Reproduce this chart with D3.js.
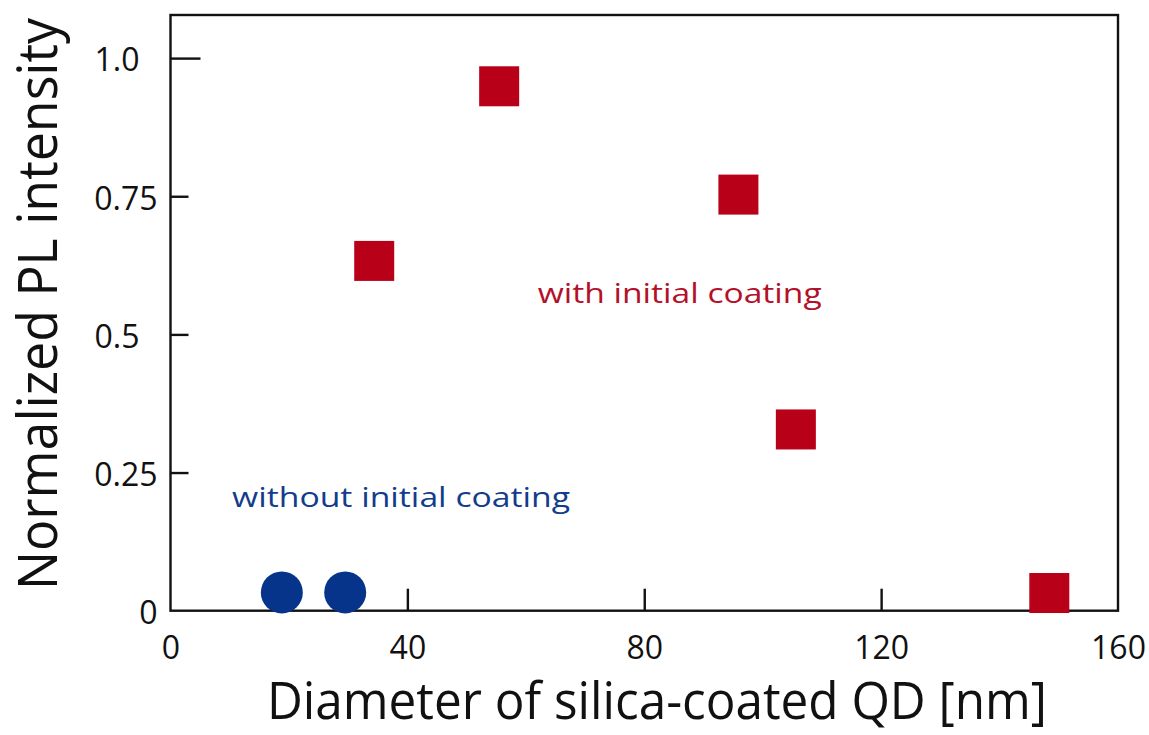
<!DOCTYPE html>
<html>
<head>
<meta charset="utf-8">
<script src="https://cdn.jsdelivr.net/npm/d3@7"></script>
<style>
	html, body { margin: 0; padding: 0; background: #fff; }
	svg { display: block; font-family: 'Open Sans', sans-serif; }
</style>
</head>
<body>
<svg id="chart" width="1149" height="735"></svg>
<script>
// data
const withDiameter = [34.4, 55.5, 95.9, 105.6, 148.4];
const withIntensity = [0.633, 0.949, 0.753, 0.328, 0.032];
const withoutDiameter = [18.8, 29.5];
const withoutIntensity = [0.033, 0.033];

const xTicks = [0, 40, 80, 120, 160];
const xTickLabels = ['0', '40', '80', '120', '160'];
const yTicks = [0, 0.25, 0.5, 0.75, 1.0];
const yTickLabels = ['0', '0.25', '0.5', '0.75', '1.0'];

const notes = [
	{text: 'with initial coating', x: 62.0, y: 0.557, color: '#b3102a', len: 284},
	{text: 'without initial coating', x: 10.4, y: 0.188, color: '#123c8c', len: 338}
];

const red = '#b80019';
const blue = '#05348a';

const plotLeft = 170.5, plotRight = 1118, plotTop = 15, plotBottom = 610.7;

const svg = d3.select('#chart');

let x = d3.scaleLinear()
	.domain([0, 160])
	.range([plotLeft, plotRight]);

let y = d3.scaleLinear()
	.domain([0, 1.078])
	.range([plotBottom, plotTop]);

// frame
svg.append('rect')
	.attr('x', plotLeft)
	.attr('y', plotTop)
	.attr('width', plotRight - plotLeft)
	.attr('height', plotBottom - plotTop)
	.attr('fill', 'none')
	.attr('stroke', '#111')
	.attr('stroke-width', 2.4);

// Y axis
let yAxis = svg.append('g')
	.attr('transform', `translate(${plotLeft},0)`)
	.call(d3.axisLeft(y)
		.tickValues(yTicks)
		.tickSize(-18)
		.tickPadding(13)
		.tickFormat((d, i) => yTickLabels[i]));

yAxis.select('.domain').remove();
yAxis.selectAll('.tick line')
	.attr('stroke', '#111')
	.attr('stroke-width', 2.4)
	.attr('x2', d => d === 1 ? 30 : 18)
	.filter(d => d === 0).remove();
yAxis.selectAll('.tick text')
	.attr('font-family', "'Open Sans', sans-serif")
	.attr('font-size', 32)
	.attr('fill', '#111')
	.attr('dy', '0.4em')
	.attr('x', d => (d === 1 || d === 0.5) ? -31 : -13);

// X axis
let xAxis = svg.append('g')
	.attr('transform', `translate(0,${plotBottom})`)
	.call(d3.axisBottom(x)
		.tickValues(xTicks)
		.tickSize(-22)
		.tickPadding(26)
		.tickFormat((d, i) => xTickLabels[i]));

xAxis.select('.domain').remove();
xAxis.selectAll('.tick line')
	.attr('stroke', '#111')
	.attr('stroke-width', 2.4)
	.filter(d => d === 0 || d === 160).remove();
xAxis.selectAll('.tick text')
	.attr('font-family', "'Open Sans', sans-serif")
	.attr('font-size', 32)
	.attr('fill', '#111')
	.attr('y', 26);

// axis titles
svg.append('text')
	.attr('x', 657)
	.attr('y', 719)
	.attr('text-anchor', 'middle')
	.attr('font-size', 51)
	.attr('fill', '#111')
	.attr('textLength', 780)
	.attr('lengthAdjust', 'spacingAndGlyphs')
	.text('Diameter of silica-coated QD [nm]');

svg.append('text')
	.attr('transform', 'translate(57,304) rotate(-90)')
	.attr('text-anchor', 'middle')
	.attr('font-size', 54)
	.attr('fill', '#111')
	.attr('textLength', 572)
	.attr('lengthAdjust', 'spacingAndGlyphs')
	.text('Normalized PL intensity');

// without initial coating
svg.append('g').selectAll('circle')
	.data(withoutDiameter)
	.enter()
	.append('circle')
	.attr('cx', d => x(d))
	.attr('cy', (d, i) => y(withoutIntensity[i]))
	.attr('r', 21)
	.attr('fill', blue);

// with initial coating
const side = 40;
svg.append('g').selectAll('rect')
	.data(withDiameter)
	.enter()
	.append('rect')
	.attr('x', d => x(d) - side / 2)
	.attr('y', (d, i) => y(withIntensity[i]) - side / 2)
	.attr('width', side)
	.attr('height', side)
	.attr('fill', red);

// labels
svg.append('g').selectAll('text')
	.data(notes)
	.enter()
	.append('text')
	.attr('x', d => x(d.x))
	.attr('y', d => y(d.y))
	.attr('font-size', 28)
	.attr('fill', d => d.color)
	.attr('textLength', d => d.len)
	.attr('lengthAdjust', 'spacingAndGlyphs')
	.text(d => d.text);
</script>
</body>
</html>
